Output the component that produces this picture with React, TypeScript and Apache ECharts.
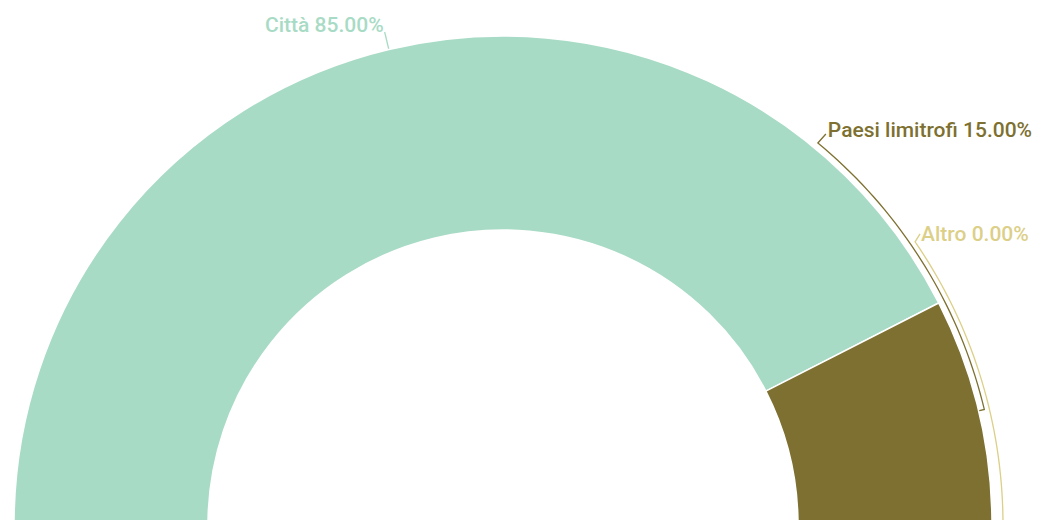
import React, { useEffect, useRef } from "react";
import * as echarts from "echarts";

// ---- data ----
const categories: string[] = ["Città", "Paesi limitrofi", "Altro"];
const values: number[] = [85, 15, 0];
const colors: string[] = ["#a8dbc5", "#7d7030", "#dccf88"];

// ---- layout (not data) ----
const W = 1038;
const H = 520;
const CX = 503;
const CY = 525;
const R_IN = 295;
const R_OUT = 489;
const START = 180;
const SPAN = 180;

const total = values.reduce((a, b) => a + b, 0);

function pt(angDeg: number, r: number): number[] {
  const a = (angDeg * Math.PI) / 180;
  return [CX + r * Math.cos(a), CY - r * Math.sin(a)];
}

function midAngle(i: number): number {
  let acc = 0;
  for (let k = 0; k < i; k++) acc += values[k];
  const mid = acc + values[i] / 2;
  return START - (mid / total) * SPAN;
}

function arcPts(a0: number, a1: number, r: number): number[][] {
  const out: number[][] = [];
  const n = Math.max(2, Math.ceil(Math.abs(a1 - a0)));
  for (let k = 0; k <= n; k++) out.push(pt(a0 + ((a1 - a0) * k) / n, r));
  return out;
}

export default function App() {
  const ref = useRef<HTMLDivElement>(null);
  useEffect(() => {
    document.body.style.margin = "0";
    if (!ref.current) return;
    const chart = echarts.init(ref.current, undefined, { renderer: "svg" });
    const data = categories.map((name, i) => ({
      name,
      value: values[i],
      itemStyle: { color: colors[i] },
      label: { color: colors[i] },
      labelLine: { lineStyle: { color: colors[i] } },
    }));
    chart.setOption({
      animation: false,
      backgroundColor: "#ffffff",
      series: [
        {
          type: "pie",
          center: [CX, CY],
          radius: [R_IN, R_OUT],
          startAngle: START,
          endAngle: START - SPAN,
          clockwise: true,
          avoidLabelOverlap: false,
          data,
          itemStyle: { borderColor: "#ffffff", borderWidth: 1.5 },
          label: {
            show: true,
            position: "outside",
            fontFamily: "Roboto",
            fontWeight: 500,
            fontSize: 21,
            formatter: (p: any) =>
              `${p.name} ${((p.value / total) * 100).toFixed(2)}%`,
          },
          labelLine: { show: true, length: 18, length2: 0, lineStyle: { width: 1.3 } },
          labelLayout: (p: any) => {
            const i = p.dataIndex;
            const m = midAngle(i);
            if (i === 0) {
              const a = pt(m, R_OUT);
              const b = pt(m, R_OUT + 18);
              return {
                x: b[0] - 1,
                y: b[1] - 7,
                align: "right",
                verticalAlign: "middle",
                labelLinePoints: [a, b],
              };
            }
            if (i === 1) {
              const rr = R_OUT + 6;
              const arc = arcPts(m, 50.5, rr);
              const elbow = arc[arc.length - 1];
              const end = [elbow[0] + 8, elbow[1] - 9];
              return {
                x: end[0] + 2,
                y: end[1] - 4.5,
                align: "left",
                verticalAlign: "middle",
                labelLinePoints: [pt(m, R_OUT), ...arc, end],
              };
            }
            const rr = R_OUT + 11;
            const arc = arcPts(m, 34.5, rr);
            const elbow = arc[arc.length - 1];
            const end = [elbow[0] + 5, elbow[1] - 8];
            return {
              x: end[0] + 1,
              y: end[1] + 0.5,
              align: "left",
              verticalAlign: "middle",
              labelLinePoints: [pt(m, R_OUT), ...arc, end],
            };
          },
        },
      ],
    });
    return () => chart.dispose();
  }, []);
  return <div ref={ref} style={{ width: W, height: H }} />;
}
